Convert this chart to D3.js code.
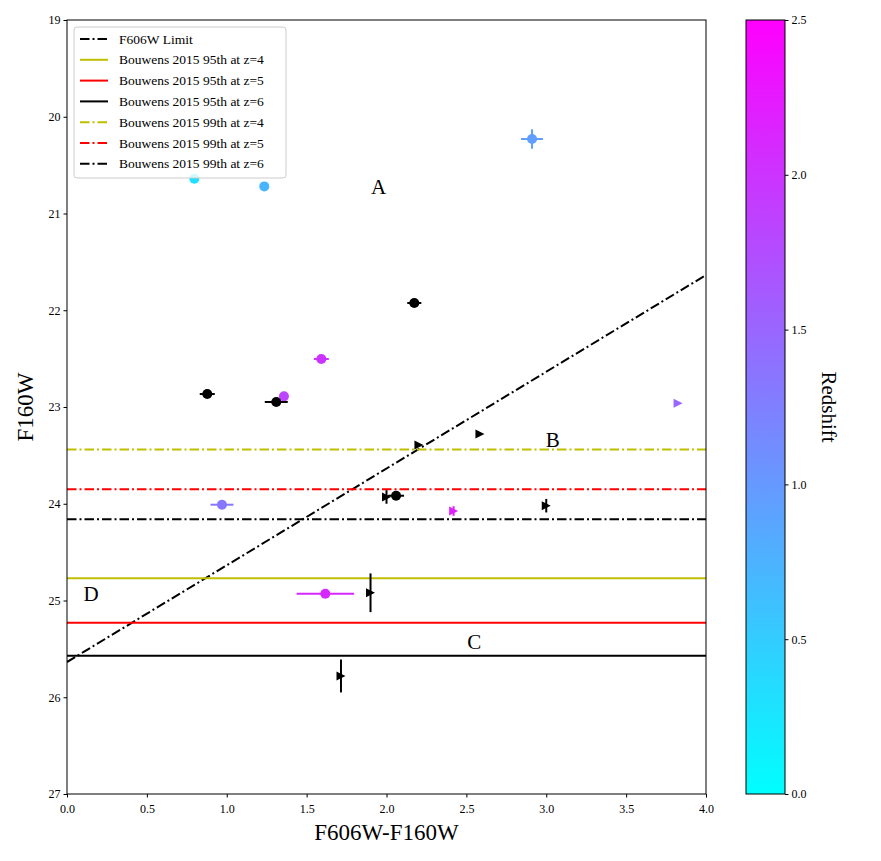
<!DOCTYPE html>
<html><head><meta charset="utf-8">
<script src="https://cdn.jsdelivr.net/npm/d3@7"></script>
<style>body{margin:0;background:#fff}svg{display:block}text{font-family:"Liberation Serif","DejaVu Serif",serif}</style>
</head><body>
<svg id="c" width="881" height="861"></svg>
<script>
// ---- data ----
const circleX    = [0.797, 1.235, 2.911, 2.174, 1.592, 0.878, 1.358, 1.310, 2.060, 0.970, 1.617];
const circleY    = [20.64, 20.72, 20.23, 21.925, 22.504, 22.866, 22.89, 22.948, 23.917, 24.01, 24.93];
const circleXerr = [0, 0, 0.069, 0.044, 0.047, 0.047, 0, 0.072, 0.05, 0.072, 0.18];
const circleYerr = [0, 0, 0.10, 0, 0, 0, 0, 0, 0, 0, 0];
const circleZ    = [0.30, 0.73, 0.95, null, 2.0, null, 1.84, null, null, 1.33, 2.1];

const triX    = [2.203, 2.585, 3.825, 2.000, 2.420, 3.000, 1.900, 1.715];
const triY    = [23.394, 23.28, 22.96, 23.93, 24.075, 24.02, 24.92, 25.78];
const triYerr = [0, 0, 0, 0.07, 0.05, 0.07, 0.20, 0.17];
const triZ    = [null, null, 1.5, null, 2.17, null, null, null];

const limitIntercept = 25.636; // F606W limit: F160W = limit - colour
const hLineLabels = ["Bouwens 2015 95th at z=4","Bouwens 2015 95th at z=5","Bouwens 2015 95th at z=6",
                     "Bouwens 2015 99th at z=4","Bouwens 2015 99th at z=5","Bouwens 2015 99th at z=6"];
const hLineValues = [24.77, 25.23, 25.57, 23.44, 23.85, 24.16];
const hLineColors = ["#bfbf00","#ff0000","#000000","#bfbf00","#ff0000","#000000"];
const hLineDashed = [false,false,false,true,true,true];

const regionLabels = ["A","B","C","D"];
const regionX = [1.95, 3.04, 2.55, 0.15];
const regionY = [20.73, 23.34, 25.43, 24.93];

const xTicks = [0,0.5,1,1.5,2,2.5,3,3.5,4];
const yTicks = [19,20,21,22,23,24,25,26,27];
const cTicks = [0,0.5,1,1.5,2,2.5];

// ---- layout ----
const svg = d3.select("#c");
const L=67,R=706,T=20,B=794;
const x = d3.scaleLinear().domain([0,4]).range([L,R]);
const y = d3.scaleLinear().domain([19,27]).range([T,B]);
const cmap = d3.scaleLinear().domain([0,2.5]).range(["#00ffff","#ff00ff"]).interpolate(d3.interpolateRgb);
const colOf = z => z==null ? "#000" : cmap(z);
const DASH = "9.5,3,2,3";

svg.append("defs").append("clipPath").attr("id","clip")
  .append("rect").attr("x",L).attr("y",T).attr("width",R-L).attr("height",B-T);
const g = svg.append("g").attr("clip-path","url(#clip)");

// limit line
g.append("line").attr("x1",x(0)).attr("y1",y(limitIntercept)).attr("x2",x(4)).attr("y2",y(limitIntercept-4))
 .attr("stroke","#000").attr("stroke-width",2).attr("stroke-dasharray",DASH);
// horizontal lines
hLineValues.forEach((v,i)=>{
  g.append("line").attr("x1",x(0)).attr("x2",x(4)).attr("y1",y(v)).attr("y2",y(v))
   .attr("stroke",hLineColors[i]).attr("stroke-width",2)
   .attr("stroke-dasharray",hLineDashed[i]?DASH:null);
});

// points: coloured first, then black
function drawCircle(i){
  const c=colOf(circleZ[i]), cx=x(circleX[i]), cy=y(circleY[i]);
  if(circleXerr[i]) g.append("line").attr("x1",x(circleX[i]-circleXerr[i])).attr("x2",x(circleX[i]+circleXerr[i]))
     .attr("y1",cy).attr("y2",cy).attr("stroke",c).attr("stroke-width",2);
  if(circleYerr[i]) g.append("line").attr("y1",y(circleY[i]-circleYerr[i])).attr("y2",y(circleY[i]+circleYerr[i]))
     .attr("x1",cx).attr("x2",cx).attr("stroke",c).attr("stroke-width",2);
  g.append("circle").attr("cx",cx).attr("cy",cy).attr("r",5).attr("fill",c);
}
function drawTri(i){
  const c=colOf(triZ[i]), cx=x(triX[i]), cy=y(triY[i]), s=4.5;
  if(triYerr[i]) g.append("line").attr("y1",y(triY[i]-triYerr[i])).attr("y2",y(triY[i]+triYerr[i]))
     .attr("x1",cx).attr("x2",cx).attr("stroke",c).attr("stroke-width",2);
  g.append("path").attr("d",`M${cx+s},${cy}L${cx-s},${cy-s}L${cx-s},${cy+s}Z`).attr("fill",c);
}
circleZ.forEach((z,i)=>{ if(z!=null) drawCircle(i); });
triZ.forEach((z,i)=>{ if(z!=null) drawTri(i); });
circleZ.forEach((z,i)=>{ if(z==null) drawCircle(i); });
triZ.forEach((z,i)=>{ if(z==null) drawTri(i); });

// region labels
regionLabels.forEach((t,i)=>{
  svg.append("text").attr("x",x(regionX[i])).attr("y",y(regionY[i])).attr("text-anchor","middle")
   .attr("dominant-baseline","central").attr("font-size",21).text(t);
});

// axes
const xa = svg.append("g").attr("transform",`translate(0,${B})`)
  .call(d3.axisBottom(x).tickValues(xTicks).tickFormat(d3.format(".1f")).tickSize(3.5).tickSizeOuter(0));
const ya = svg.append("g").attr("transform",`translate(${L},0)`)
  .call(d3.axisLeft(y).tickValues(yTicks).tickFormat(d3.format("d")).tickSize(3.5).tickSizeOuter(0));
[xa,ya].forEach(a=>{a.select(".domain").remove(); a.selectAll("text").attr("font-size",12).attr("font-family","Liberation Serif");});
xa.selectAll("text").attr("dy","1.0em");
svg.append("rect").attr("x",L).attr("y",T).attr("width",R-L).attr("height",B-T)
  .attr("fill","none").attr("stroke","#000").attr("stroke-width",1);

svg.append("text").attr("x",(L+R)/2).attr("y",840).attr("text-anchor","middle").attr("font-size",23).text("F606W-F160W");
svg.append("text").attr("transform",`translate(33,${(T+B)/2}) rotate(-90)`).attr("text-anchor","middle").attr("font-size",23).text("F160W");

// legend
const lg = svg.append("g");
lg.append("rect").attr("x",74).attr("y",27).attr("width",212).attr("height",151).attr("rx",3)
  .attr("fill","#fff").attr("fill-opacity",0.8).attr("stroke","#cccccc").attr("stroke-width",1);
const legLabels = ["F606W Limit"].concat(hLineLabels);
const legColors = ["#000"].concat(hLineColors);
const legDash = [true].concat(hLineDashed);
legLabels.forEach((t,i)=>{
  const yy = 39 + i*20.8;
  lg.append("line").attr("x1",80).attr("x2",108).attr("y1",yy).attr("y2",yy)
    .attr("stroke",legColors[i]).attr("stroke-width",2).attr("stroke-dasharray",legDash[i]?DASH:null);
  lg.append("text").attr("x",119).attr("y",yy).attr("dominant-baseline","central").attr("font-size",13.5).text(t);
});

// colorbar
const cbL=746,cbR=785;
const cy = d3.scaleLinear().domain([0,2.5]).range([B,T]);
const grad = svg.select("defs").append("linearGradient").attr("id","cg").attr("x1",0).attr("y1",1).attr("x2",0).attr("y2",0);
grad.append("stop").attr("offset","0%").attr("stop-color",cmap(0));
grad.append("stop").attr("offset","100%").attr("stop-color",cmap(2.5));
svg.append("rect").attr("x",cbL).attr("y",T).attr("width",cbR-cbL).attr("height",B-T)
  .attr("fill","url(#cg)").attr("stroke","#000").attr("stroke-width",1);
const ca = svg.append("g").attr("transform",`translate(${cbR},0)`)
  .call(d3.axisRight(cy).tickValues(cTicks).tickFormat(d3.format(".1f")).tickSize(3.5).tickSizeOuter(0));
ca.select(".domain").remove();
ca.selectAll("text").attr("font-size",12).attr("font-family","Liberation Serif");
svg.append("text").attr("transform",`translate(822,${(T+B)/2}) rotate(90)`).attr("text-anchor","middle").attr("font-size",21).text("Redshift");
</script>
</body></html>
